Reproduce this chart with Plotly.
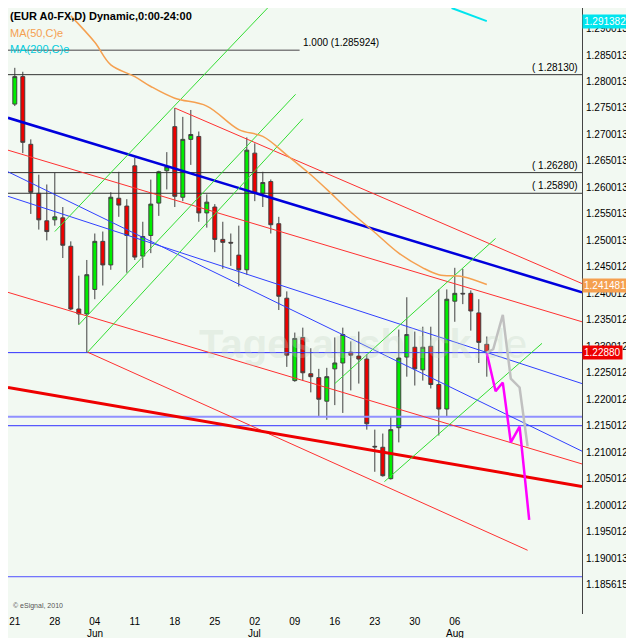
import plotly.graph_objects as go

# ---- data ----
idx = list(range(60))
opens = [1.27574,1.28093,1.26815,1.25889,1.25370,1.25389,1.25426,1.24889,1.23704,1.23611,
         1.24074,1.24982,1.24537,1.25796,1.25648,1.26408,1.24704,1.25093,1.25704,1.26315,
         1.27148,1.25815,1.26908,1.26963,1.25519,1.25630,1.25019,1.24963,1.24722,1.24445,
         1.26648,1.25889,1.26111,1.25315,1.23908,1.22352,1.23167,1.22482,1.22408,1.21963,
         1.22574,1.22685,1.22889,1.22815,1.22759,1.21111,1.21093,1.20500,1.21463,1.22796,
         1.22982,1.22556,1.23000,1.22278,1.21815,1.23852,1.24000,1.24000,1.23630,1.23037]
highs = [1.28259,1.28185,1.26908,1.26241,1.26056,1.26278,1.25630,1.24982,1.24333,1.24630,
         1.25130,1.25167,1.25908,1.26296,1.25778,1.26556,1.25352,1.26148,1.26315,1.26667,
         1.27500,1.27333,1.27463,1.27056,1.25870,1.25685,1.25352,1.25130,1.25278,1.26945,
         1.26833,1.26296,1.26150,1.25445,1.24037,1.23259,1.23352,1.22963,1.22574,1.22593,
         1.23167,1.23352,1.23093,1.23278,1.22852,1.21426,1.21352,1.21667,1.23315,1.23926,
         1.23278,1.23370,1.23370,1.24074,1.24074,1.24482,1.24463,1.24056,1.23889,1.23185]
lows = [1.27537,1.26648,1.25500,1.25204,1.25000,1.25278,1.24667,1.23685,1.23408,1.22889,
        1.23889,1.24148,1.24445,1.25445,1.24389,1.24630,1.24482,1.24759,1.25463,1.25963,
        1.25630,1.25741,1.26426,1.25352,1.25241,1.24778,1.24463,1.24519,1.24130,1.24352,
        1.25741,1.25630,1.25130,1.23685,1.22611,1.22330,1.22352,1.22130,1.21667,1.21611,
        1.21889,1.21741,1.22167,1.22296,1.21426,1.20630,1.20537,1.20482,1.21185,1.22426,
        1.22259,1.22352,1.22204,1.21315,1.21667,1.23463,1.23796,1.23296,1.22685,1.22426]
closes = [1.28093,1.26852,1.25908,1.25389,1.25167,1.25445,1.24908,1.23704,1.23611,1.24352,
          1.24982,1.24537,1.25815,1.25667,1.25093,1.24685,1.25074,1.25685,1.26296,1.26389,
          1.25833,1.26908,1.27000,1.25519,1.25722,1.25019,1.24963,1.24950,1.24445,1.26704,
          1.25889,1.26093,1.25296,1.23945,1.22833,1.23148,1.22500,1.22426,1.22000,1.22426,
          1.22685,1.23222,1.22833,1.22759,1.21537,1.21100,1.20556,1.21426,1.22778,1.23222,
          1.22574,1.22982,1.22278,1.21815,1.23889,1.24000,1.23990,1.23667,1.23074,1.22880]

ma50_x = [7,10,12,15,17,20,24,28,31,34,37,39,42,45,48,51,53,56,59]
ma50_y = [1.2924,1.28741,1.28315,1.28093,1.27907,1.27685,1.27537,1.27093,1.26963,1.26611,
          1.2624,1.25963,1.25537,1.2515,1.24759,1.24482,1.24352,1.24315,1.24167]
ma200_x = [54.6, 59]
ma200_y = [1.2939, 1.2914]

tick_idx = [0,5,10,15,20,25,30,35,40,45,50,55]
tick_txt = ["21","28","04","11","18","25","02","09","16","23","30","06"]
month_idx = [10,30,55]
month_txt = ["Jun","Jul","Aug"]
ytick_vals = [1.290013,1.285013,1.280013,1.275013,1.270013,1.265013,1.260013,1.255013,1.250013,
              1.245012,1.240012,1.235012,1.230012,1.225012,1.220012,1.215012,1.210012,1.205012,
              1.200012,1.195012,1.190013,1.185013]
ytick_txt = ["1.290013","1.285013","1.280013","1.275013","1.270013","1.265013","1.260013","1.255013",
             "1.250013","1.245012","1.240012","1.235012","1.230012","1.225012","1.220012","1.215012",
             "1.210012","1.205012","1.200012","1.195012","1.190013","1.185615"]

hlevels = [(1.285924,"#808080",1.5),(1.2813,"#333333",1),(1.2628,"#333333",1),
           (1.2589,"#333333",1),(1.2288,"#3030ff",1),(1.21667,"#9090ff",2),
           (1.2150,"#3030ff",1),(1.18648,"#5050ff",1)]
tlines = [(-0.85,1.27315,70.9,1.24019,"#0000dd",2.5),
          (-0.85,1.25833,70.9,1.22296,"#3040ff",1),
          (-0.85,1.26296,70.9,1.21019,"#3040ff",1),
          (20.0,1.27500,70.9,1.24185,"#ff3030",1),
          (-0.85,1.26704,70.9,1.23463,"#ff3030",1),
          (-0.85,1.24019,70.9,1.20778,"#ff3030",1),
          (9.1,1.22889,64.1,1.19148,"#ff3030",1),
          (-0.85,1.22222,70.9,1.20352,"#ee0000",3),
          (5.0,1.25167,31.6,1.29389,"#33dd33",1),
          (8.0,1.23408,35.1,1.27759,"#33dd33",1),
          (9.1,1.22889,36.0,1.27296,"#33dd33",1),
          (46.2,1.20444,65.9,1.23056,"#33dd33",1),
          (40.0,1.22296,60.1,1.25037,"#33dd33",1)]
gray_x = [59,59.8,61,62,63.1,64.1]
gray_y = [1.2288,1.22944,1.23593,1.22389,1.22222,1.21111]
mag_x = [59,60.1,61,62,63.1,64.3]
mag_y = [1.2287,1.2215,1.22315,1.21185,1.21481,1.19722]

FONT = "Liberation Sans"
fig = go.Figure()
for (p,c,w) in hlevels:
    x1 = 35.6 if p == 1.285924 else 70.9
    fig.add_trace(go.Scatter(x=[-0.85,x1],y=[p,p],mode="lines",line=dict(color=c,width=w),hoverinfo="skip"))
for (x0,p0,x1,p1,c,w) in tlines:
    fig.add_trace(go.Scatter(x=[x0,x1],y=[p0,p1],mode="lines",line=dict(color=c,width=w),hoverinfo="skip"))
fig.add_trace(go.Scatter(x=ma50_x,y=ma50_y,mode="lines",line=dict(color="#f5a050",width=1.5,shape="spline")))
fig.add_trace(go.Scatter(x=ma200_x,y=ma200_y,mode="lines",line=dict(color="#00e5ee",width=2)))
fig.add_trace(go.Candlestick(x=idx,open=opens,high=highs,low=lows,close=closes,
    increasing=dict(fillcolor="#00ee00",line=dict(color="#404040",width=1)),
    decreasing=dict(fillcolor="#ee0000",line=dict(color="#404040",width=1)),whiskerwidth=0))
fig.add_trace(go.Scatter(x=gray_x,y=gray_y,mode="lines",line=dict(color="#c0c0c0",width=2.5)))
fig.add_trace(go.Scatter(x=mag_x,y=mag_y,mode="lines",line=dict(color="#ff00ff",width=2.5)))

ann = [
    dict(x=0,y=1,xref="paper",yref="paper",xanchor="left",yanchor="top",showarrow=False,
         text="<b>(EUR A0-FX,D) Dynamic,0:00-24:00</b>",font=dict(size=11,color="black")),
    dict(x=0,y=1,xref="paper",yref="paper",xanchor="left",yanchor="top",showarrow=False,
         text="MA(50,C)e",font=dict(size=11,color="#f5a050"),yshift=-17),
    dict(x=0,y=1,xref="paper",yref="paper",xanchor="left",yanchor="top",showarrow=False,
         text="MA(200,C)e",font=dict(size=11,color="#00ccdd"),yshift=-33),
    dict(x=35.8,y=1.285924,xanchor="left",yanchor="bottom",showarrow=False,text="1.000 (1.285924)",
         font=dict(size=10,color="black")),
    dict(x=0.33,y=0.445,xref="paper",yref="paper",showarrow=False,text="<b>Tagesausblick</b>.de",
         font=dict(size=40,color="rgba(195,212,195,0.3)")),
    dict(x=0.005,y=0.003,xref="paper",yref="paper",xanchor="left",yanchor="bottom",showarrow=False,
         text="© eSignal, 2010",font=dict(size=7,color="#555")),
]
for m,t in zip(month_idx,month_txt):
    ann.append(dict(x=m,y=0,yref="paper",yanchor="top",showarrow=False,text=t,yshift=-12,
                    font=dict(size=10,color="black")))
for p,t in [(1.2813,"( 1.28130)"),(1.2628,"( 1.26280)"),(1.2589,"( 1.25890)")]:
    ann.append(dict(x=70.6,y=p,xanchor="right",yanchor="bottom",showarrow=False,text=t,
                    font=dict(size=10,color="black")))
for p,t,bg in [(1.2914,"1.291382","#00e5ee"),(1.2415,"1.241481","#f5a050"),(1.2288,"1.22880","#ee0000")]:
    ann.append(dict(x=1,y=p,xref="paper",xanchor="left",showarrow=False,text=t,bgcolor=bg,
                    font=dict(size=10,color="white"),borderpad=1))

fig.update_layout(width=620,height=630,margin=dict(l=0,r=46,t=0,b=24,autoexpand=False),showlegend=False,
    plot_bgcolor="#f2f9f2",paper_bgcolor="#f2f9f2",annotations=ann,
    font=dict(family=FONT,size=10,color="black"),
    xaxis=dict(range=[-0.85,70.9],rangeslider=dict(visible=False),tickvals=tick_idx,ticktext=tick_txt,
               showgrid=False,zeroline=False,ticks="",tickfont=dict(size=10),automargin=False),
    yaxis=dict(range=[1.17944,1.29389],side="right",tickvals=ytick_vals,ticktext=ytick_txt,
               showgrid=False,zeroline=False,showline=True,linecolor="#444",ticks="",
               tickfont=dict(size=10),automargin=False,ticklabelstandoff=1))
fig.write_html("out.html")
